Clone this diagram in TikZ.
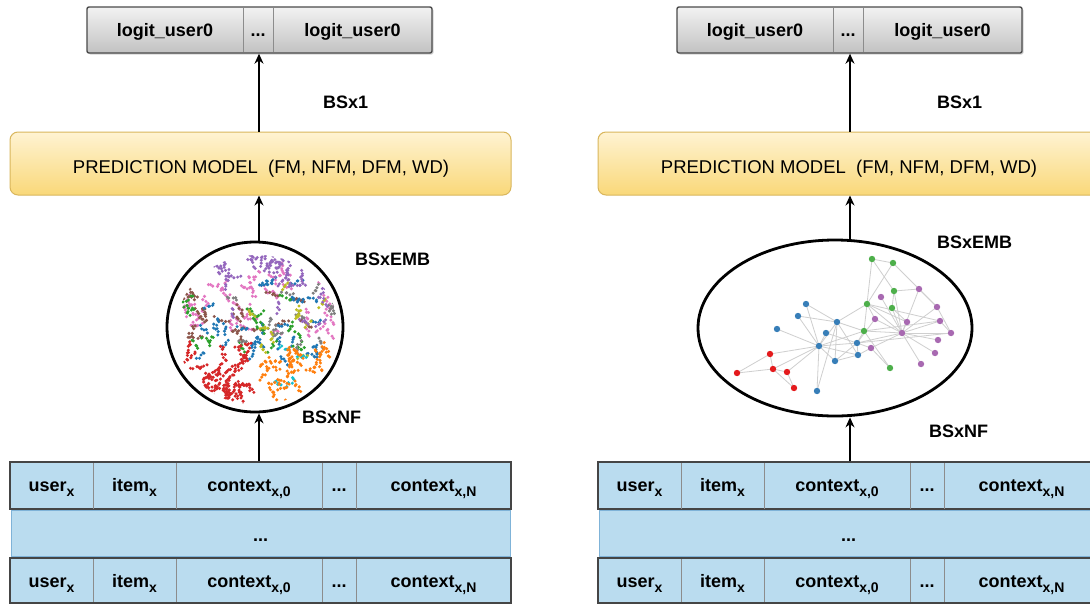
\documentclass[tikz,border=0pt]{standalone}
\usepackage{fontspec}
\setmainfont{Liberation Sans}
\usetikzlibrary{arrows.meta,shadows,shapes.geometric,calc}

\definecolor{tabfill}{HTML}{BADCEF}
\definecolor{taborder}{HTML}{454545}
\definecolor{tabmid}{HTML}{7FB3D8}
\definecolor{coldivc}{HTML}{8C8C8C}
\definecolor{predtop}{HTML}{FFF3D2}
\definecolor{predbot}{HTML}{F9D879}
\definecolor{predline}{HTML}{D9B65C}
\definecolor{outtop}{HTML}{F2F2F2}
\definecolor{outbot}{HTML}{C2C2C2}
\definecolor{outline}{HTML}{4A4A4A}
\definecolor{edgec}{HTML}{CFCFCF}
\definecolor{sgreen}{HTML}{4DAF4A}
\definecolor{spurple}{HTML}{984EA3}
\definecolor{sblue}{HTML}{377EB8}
\definecolor{sred}{HTML}{E41A1C}
\definecolor{tblue}{HTML}{1F77B4}
\definecolor{torange}{HTML}{FF7F0E}
\definecolor{tgreen}{HTML}{2CA02C}
\definecolor{tred}{HTML}{D62728}
\definecolor{tpurple}{HTML}{9467BD}
\definecolor{tbrown}{HTML}{8C564B}
\definecolor{tpink}{HTML}{E377C2}
\definecolor{tgray}{HTML}{7F7F7F}
\definecolor{tolive}{HTML}{BCBD22}
\definecolor{tcyan}{HTML}{17BECF}

\newcommand\lowidx[1]{\raisebox{-5pt}{\fontsize{14}{14}\selectfont #1}}
\newcommand\dotcloud[8]{%
  \foreach \k in {1,...,#6}{%
    \pgfmathsetmacro\dcx{#2+(#3-#2)*rnd}%
    \pgfmathsetmacro\dcy{#4+(#5-#4)*rnd}%
    \pgfmathsetmacro\dca{360*rnd}%
    \foreach \j in {1,...,#7}{%
      \pgfmathsetmacro\dpx{\dcx+(\j-#7/2)*#8*cos(\dca)+1.6*rand}%
      \pgfmathsetmacro\dpy{\dcy+(\j-#7/2)*#8*sin(\dca)+1.6*rand}%
      \fill[#1] (\dpx,\dpy) circle[radius=1.7pt];
    }%
  }%
}

\tikzset{
  outbox/.style={draw=outline, line width=1.4pt, rounded corners=2pt,
    top color=outtop, bottom color=outbot, minimum width=345pt,
    minimum height=46pt, inner sep=0pt,
    drop shadow={opacity=0.35, shadow xshift=1.5pt, shadow yshift=-1.5pt}},
  predbox/.style={draw=predline, line width=1pt, rounded corners=8pt,
    top color=predtop, bottom color=predbot, minimum width=501pt,
    minimum height=63pt, inner sep=0pt},
  txt/.style={inner sep=0pt, anchor=base},
  btxt/.style={inner sep=0pt, anchor=base, font=\bfseries\fontsize{18}{20}\selectfont},
  lbl/.style={inner sep=0pt, anchor=base west, font=\bfseries\fontsize{18}{20}\selectfont},
  arr/.style={-{Stealth[length=10pt,width=9pt]}, line width=1.3pt, black},
  rowdark/.style={draw=taborder, line width=1.6pt, fill=tabfill, inner sep=0pt, minimum width=501pt},
  rowlight/.style={draw=tabmid, line width=1pt, fill=tabfill, inner sep=0pt, minimum width=499pt},
  coldiv/.style={draw=coldivc, line width=1pt},
  emb/.style={draw=black, line width=2.8pt, ellipse, inner sep=0pt},
  netedge/.style={draw=edgec, line width=0.8pt},
}

\begin{document}
\begin{tikzpicture}[x=1pt,y=-1pt]
\path[use as bounding box] (0,0) rectangle (1090,603);
\clip (0,0) rectangle (1090,603);
\fill[white] (0,0) rectangle (1090,603);

% ---------- output boxes ----------
\node[outbox] (outL) at (259.5,30) {};
\node[outbox] (outR) at (849.5,30) {};
\foreach \s/\ox in {L/0,R/590}{
  \begin{scope}[shift={(\ox,0)}]
    \draw[draw=coldivc, line width=1pt] (243,8) -- (243,52);
    \draw[draw=coldivc, line width=1pt] (273,8) -- (273,52);
    \node[btxt] (lgA\s) at (165,36) {logit\_user0};
    \node[btxt] (lgB\s) at (258,36) {...};
    \node[btxt] (lgC\s) at (352.5,36) {logit\_user0};
  \end{scope}
}

% ---------- prediction boxes ----------
\node[predbox] (predL) at (260.5,163.5) {};
\node[predbox] (predR) at (848.5,163.5) {};
\node[txt, font=\fontsize{18.5}{20}\selectfont] (predtL) at (261,173) {PREDICTION MODEL\ \ (FM, NFM, DFM, WD)};
\node[txt, font=\fontsize{18.5}{20}\selectfont] (predtR) at (849,173) {PREDICTION MODEL\ \ (FM, NFM, DFM, WD)};

% ---------- embedding shapes ----------
\node[emb, minimum width=176pt, minimum height=170pt] (circL) at (255,327) {};
\node[emb, minimum width=274pt, minimum height=176pt] (ellR) at (835,328) {};

% scatter cloud (left)
\begin{scope}
  \clip (257,330) ellipse [x radius=81pt, y radius=75pt];
  \pgfmathsetseed{7}
  \dotcloud{tpink}{182}{342}{262}{335}{40}{5}{2.6}
  \dotcloud{tbrown}{184}{305}{288}{338}{18}{6}{2.6}
  \dotcloud{tblue}{184}{342}{280}{362}{28}{5}{2.6}
  \dotcloud{tgreen}{182}{305}{298}{348}{16}{5}{2.6}
  \dotcloud{tgray}{228}{342}{288}{352}{12}{5}{2.4}
  \dotcloud{tolive}{250}{338}{285}{358}{10}{5}{2.2}
  \dotcloud{tpurple}{220}{302}{256}{285}{18}{7}{2.4}
  \dotcloud{tpurple}{232}{330}{285}{325}{6}{5}{2.4}
  \dotcloud{tcyan}{265}{300}{340}{385}{4}{5}{2.4}
  \dotcloud{tred}{185}{248}{345}{402}{34}{8}{2.2}
  \dotcloud{torange}{262}{332}{350}{402}{26}{6}{2.5}
\end{scope}

% network graph (right)
\coordinate (g1) at (872,259); \coordinate (g2) at (893,263);
\coordinate (g3) at (894,291); \coordinate (g4) at (892,308);
\coordinate (g5) at (867,304); \coordinate (g6) at (864,331);
\coordinate (g7) at (890,368);
\coordinate (p1) at (881,297); \coordinate (p2) at (919,289);
\coordinate (p3) at (937,307); \coordinate (p4) at (875,319);
\coordinate (p5) at (907,322); \coordinate (p6) at (940,321);
\coordinate (p7) at (951,333); \coordinate (p8) at (902,333);
\coordinate (p9) at (938,340); \coordinate (p10) at (871,348);
\coordinate (p11) at (935,353); \coordinate (p12) at (921,364);
\coordinate (b1) at (806,304); \coordinate (b2) at (798,316);
\coordinate (b3) at (777,329); \coordinate (b4) at (837,322);
\coordinate (b5) at (826,333); \coordinate (b6) at (819,346);
\coordinate (b7) at (857,343); \coordinate (b8) at (858,355);
\coordinate (b9) at (835,361); \coordinate (b10) at (817,391);
\coordinate (r1) at (770,354); \coordinate (r2) at (737,373);
\coordinate (r3) at (773,369); \coordinate (r4) at (787,372);
\coordinate (r5) at (794,388);
\foreach \a/\b in {g1/g2,g1/g5,g1/g3,g2/g5,g2/p3,g3/p2,g3/g4,g3/p8,g4/p8,g4/p5,
  g5/b4,g5/p8,g5/p5,g5/g6,g5/p4,g5/p6,
  p1/p8,p2/p8,p3/p8,p3/p7,p6/p8,p7/p8,p9/p8,p11/p8,p12/p8,p4/p8,p5/p8,p10/p8,p2/p3,p6/p7,
  g6/b4,g6/b6,g6/p8,g6/b7,g6/g7,g6/p6,
  p10/b8,p10/g7,p10/b7,p4/b7,
  b1/b6,b1/b4,b2/b4,b2/b6,b3/b6,b4/b6,b4/b9,b4/b8,b4/b10,b5/b6,b5/b7,b6/b7,b6/b8,b6/b9,
  b6/b10,b6/r1,b6/r3,b6/r4,b7/b8,b7/p8,b9/b7,b8/b9,b7/p7,
  r1/r2,r1/r3,r2/r3,r3/r5,r4/r5,r3/r4}{
  \draw[netedge] (\a) -- (\b);
}
\foreach \n in {g1,g2,g3,g4,g5,g6,g7}{\fill[sgreen] (\n) circle[radius=3.2pt];}
\foreach \n in {p1,p2,p3,p4,p5,p6,p7,p8,p9,p10,p11,p12}{\fill[spurple!85!white] (\n) circle[radius=3.2pt];}
\foreach \n in {b1,b2,b3,b4,b5,b6,b7,b8,b9,b10}{\fill[sblue] (\n) circle[radius=3.2pt];}
\foreach \n in {r1,r2,r3,r4,r5}{\fill[sred] (\n) circle[radius=3.2pt];}

% ---------- input tables ----------
\foreach \s/\ox in {L/0,R/588}{
  \begin{scope}[shift={(\ox,0)}]
    \node[rowdark, minimum height=47pt] (rowA\s) at (260.5,485.5) {};
    \node[rowlight, minimum height=46pt] (rowB\s) at (260.5,533) {};
    \node[rowdark, minimum height=45pt] (rowC\s) at (260.5,580.5) {};
    \foreach \cx in {93,176,322,356}{
      \draw[coldiv] (\cx,463) -- (\cx,508.5);
      \draw[coldiv] (\cx,559) -- (\cx,602);
    }
    \foreach \r/\yb in {a/491,c/587}{
      \node[btxt] (u\r\s) at (51.5,\yb) {user\lowidx{x}};
      \node[btxt] (i\r\s) at (134.5,\yb) {item\lowidx{x}};
      \node[btxt] (c\r\s) at (249,\yb) {context\lowidx{x,0}};
      \node[btxt] (d\r\s) at (339,\yb) {...};
      \node[btxt] (n\r\s) at (433.5,\yb) {context\lowidx{x,N}};
    }
    \node[btxt] (mid\s) at (260.5,541) {...};
  \end{scope}
}

% ---------- labels ----------
\node[lbl] (bs1L) at (323,108) {BSx1};
\node[lbl] (bs1R) at (937,108) {BSx1};
\node[lbl] (bseL) at (355,265) {BSxEMB};
\node[lbl] (bseR) at (937,248) {BSxEMB};
\node[lbl] (bsnL) at (302,423) {BSxNF};
\node[lbl] (bsnR) at (929,437) {BSxNF};

% ---------- connectors ----------
\coordinate (colL) at (259,0);
\coordinate (colR) at (850,0);
\draw[arr] (predL.north -| colL) -- (outL.south -| colL);
\draw[arr] (circL.north -| colL) -- (predL.south -| colL);
\draw[arr] (rowAL.north -| colL) -- (circL.south -| colL);
\draw[arr] (predR.north -| colR) -- (outR.south -| colR);
\draw[arr] (ellR.north -| colR) -- (predR.south -| colR);
\draw[arr] (rowAR.north -| colR) -- (ellR.south -| colR);
\end{tikzpicture}
\end{document}
